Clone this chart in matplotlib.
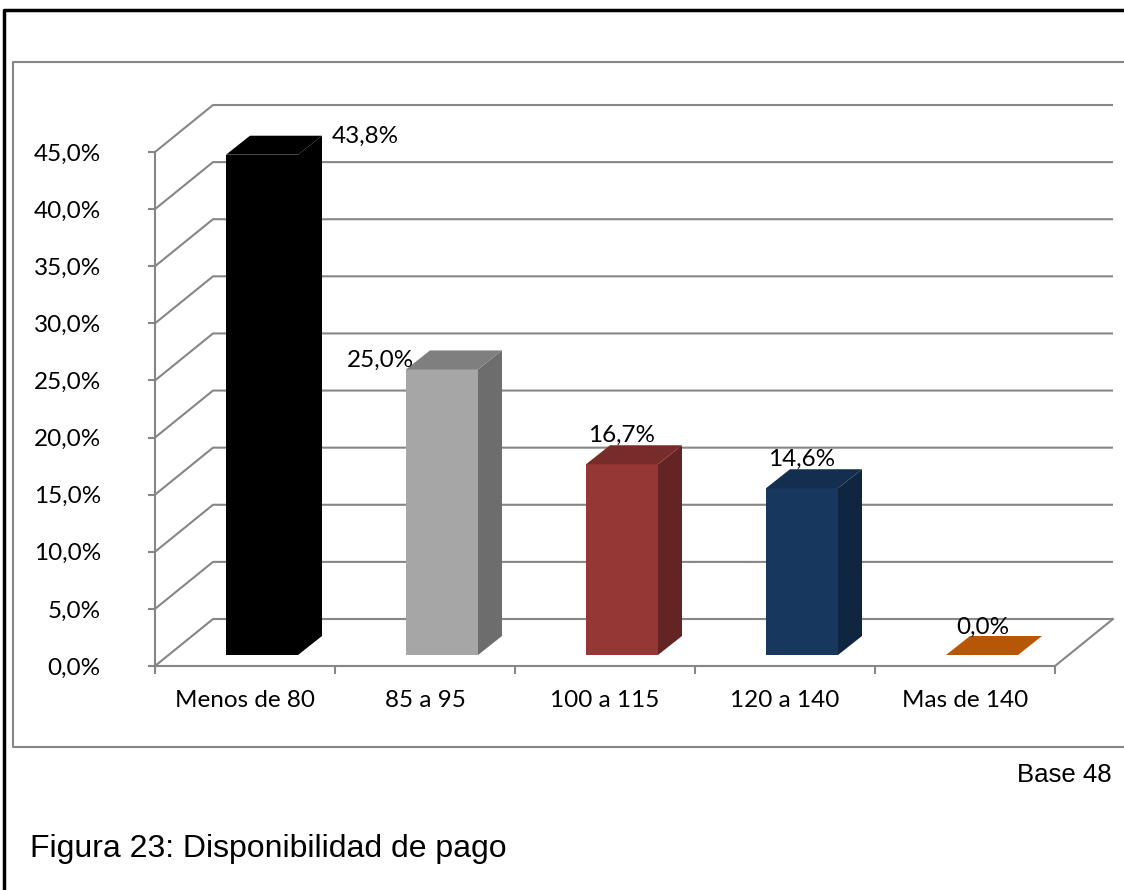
import numpy as np
import matplotlib.pyplot as plt
from matplotlib.patches import Polygon, Rectangle
from matplotlib.lines import Line2D

# Disponibilidad de pago (Base 48)
categories = ['Menos de 80', '85 a 95', '100 a 115', '120 a 140', 'Mas de 140']
values = [43.8, 25.0, 16.7, 14.6, 0.0]
value_labels = ['43,8%', '25,0%', '16,7%', '14,6%', '0,0%']
y_ticks = [0, 5, 10, 15, 20, 25, 30, 35, 40, 45]

front_colors = ['#000000', '#A6A6A6', '#953735', '#17375E', '#B65708']
top_colors = ['#000000', '#7F7F7F', '#772C2A', '#132E4F', '#B65708']
side_colors = ['#000000', '#6D6D6D', '#632423', '#10253F', '#B65708']

W, H = 1124, 890
fig = plt.figure(figsize=(W / 100, H / 100), dpi=100)

# front plane of the 3D box, in pixels
x0, x1, y0, y1 = 155, 1055, 666, 152
ax = fig.add_axes([x0 / W, 1 - y0 / H, (x1 - x0) / W, (y0 - y1) / H])
ax.set_xlim(0, len(categories))
ax.set_ylim(0, 45)
kx = len(categories) / (x1 - x0)   # data units per pixel
ky = 45 / (y0 - y1)

def px(dx, dy):
    return np.array([dx * kx, dy * ky])

wall = px(58, 47)
bar_shift = px(17, 11)
bar_depth = px(24, 19)
bar_w = 72 * kx
grid_c = '#868686'
tick_font = dict(family='Lato', fontsize=17.5)

# back wall gridlines with the diagonal on the left wall
for v in y_ticks:
    a = np.array([0, v])
    b = a + wall
    c = np.array([len(categories), v]) + wall
    ax.plot([a[0], b[0], c[0]], [a[1], b[1], c[1]], color=grid_c, lw=1.5,
            clip_on=False, zorder=1, solid_capstyle='butt')
# right floor edge
f = np.array([len(categories), 0])
ax.plot([f[0], f[0] + wall[0]], [f[1], f[1] + wall[1]], color=grid_c, lw=1.5,
        clip_on=False, zorder=1)

# bars
for i, v in enumerate(values):
    cx = i + 0.5 + bar_shift[0]
    by = bar_shift[1]
    l, r = cx - bar_w / 2, cx + bar_w / 2
    top = by + v
    if v > 0:
        ax.add_patch(Rectangle((l, by), bar_w, v, facecolor=front_colors[i],
                               edgecolor='none', clip_on=False, zorder=3))
        side = [(r, by), (r + bar_depth[0], by + bar_depth[1]),
                (r + bar_depth[0], top + bar_depth[1]), (r, top)]
        ax.add_patch(Polygon(side, closed=True, facecolor=side_colors[i],
                             edgecolor='none', clip_on=False, zorder=3))
    lid = [(l, top), (r, top), (r + bar_depth[0], top + bar_depth[1]),
           (l + bar_depth[0], top + bar_depth[1])]
    ax.add_patch(Polygon(lid, closed=True, facecolor=top_colors[i],
                         edgecolor='none', clip_on=False, zorder=3))

# value labels, placed relative to the back edge of each bar top
label_shift = [(91, -1), (-73, -10), (-12, 10), (-12, 10), (-11, 9)]
for i, v in enumerate(values):
    base = np.array([i + 0.5, v]) + bar_shift + px(12, 19)
    pos = base + px(*label_shift[i])
    ax.text(pos[0], pos[1], value_labels[i], ha='center', va='center',
            color='black', zorder=4, clip_on=False, **tick_font)

# axes
for s in ['top', 'right']:
    ax.spines[s].set_visible(False)
for s in ['left', 'bottom']:
    ax.spines[s].set_color(grid_c)
    ax.spines[s].set_linewidth(1.5)
ax.set_yticks(y_ticks)
ax.set_yticklabels([f'{t:.1f}%'.replace('.', ',') for t in y_ticks], **tick_font)
ax.set_xticks(range(len(categories) + 1))
ax.set_xticklabels([])
ax.set_xticks([i + 0.5 for i in range(len(categories))], minor=True)
ax.set_xticklabels(categories, minor=True, **tick_font)
ax.tick_params(axis='y', length=5, width=1.5, color=grid_c, pad=34)
ax.tick_params(axis='x', which='major', length=6, width=1.5, color=grid_c)
ax.tick_params(axis='x', which='minor', length=0, pad=17)
ax.patch.set_visible(False)

# chart area frame and outer page frame (both run off the right/bottom edge)
fig.add_artist(Line2D([1.0, 13 / W, 13 / W, 1.0],
                      [1 - 62 / H, 1 - 62 / H, 1 - 747 / H, 1 - 747 / H],
                      transform=fig.transFigure, color=grid_c, lw=1.5))
fig.add_artist(Line2D([1.0, 4 / W, 4 / W],
                      [1 - 10 / H, 1 - 10 / H, 0.0],
                      transform=fig.transFigure, color='black', lw=2.5))

fig.text(1112 / W, 1 - 782 / H, 'Base 48', ha='right', va='baseline',
         family='Liberation Sans', fontsize=18.5)
fig.text(30 / W, 1 - 857 / H, 'Figura 23: Disponibilidad de pago', ha='left',
         va='baseline', family='Liberation Sans', fontsize=23)

fig.savefig('out.png', dpi=100)
